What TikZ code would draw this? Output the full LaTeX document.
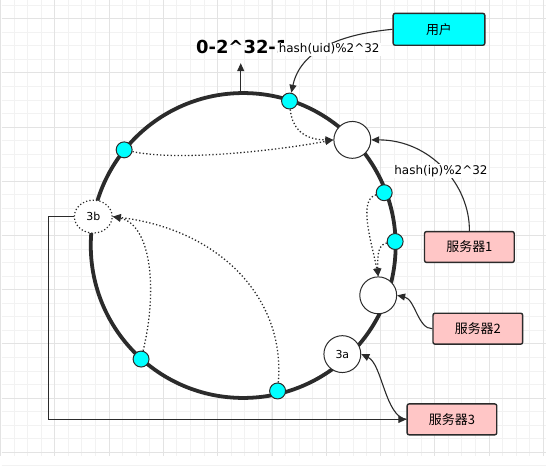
\documentclass[tikz,border=0pt]{standalone}
\usepackage{fontspec}
\setmainfont{DejaVu Sans}
\newfontfamily\cjk{Noto Sans CJK SC}
\usepackage{tikz}
\usetikzlibrary{arrows.meta,positioning,calc,shapes.geometric}
\definecolor{ink}{HTML}{2B2B2B}
\definecolor{aqua}{HTML}{00FFFF}
\definecolor{srvpink}{HTML}{FFC6C6}
\definecolor{gridminor}{HTML}{F2F2F2}
\definecolor{gridmajor}{HTML}{E3E3E3}

\begin{document}
\begin{tikzpicture}[
  x=1pt, y=-1pt,
  ring/.style={draw=ink, line width=3.8pt, fill=white},
  vnode/.style={circle, draw=ink, line width=1pt, fill=aqua, minimum size=16pt, inner sep=0pt},
  hnode/.style={circle, draw=ink, line width=1pt, fill=white, minimum size=37pt, inner sep=0pt, font=\fontsize{11}{11}\selectfont},
  srv/.style={draw=ink, line width=1.4pt, rounded corners=2pt, fill=srvpink, minimum width=90pt, minimum height=31pt, font=\cjk\fontsize{13}{13}\selectfont},
  usr/.style={srv, fill=aqua, minimum width=92pt, minimum height=32pt},
  lbl/.style={fill=white, inner sep=1pt, font=\fontsize{12}{12}\selectfont},
  arr/.style={-{Triangle[length=8pt,width=7pt]}, draw=ink, line width=1.1pt},
  darr/.style={-{Triangle[length=8pt,width=7pt]}, draw=ink, line width=1.3pt, dash pattern=on 1.3pt off 2.2pt}
]
% background grid
\fill[white] (0,0) rectangle (546,457);
\foreach \i in {0,...,40} \draw[gridminor, line width=0.8pt] ({-1.2+13.62*\i},0) -- ({-1.2+13.62*\i},457);
\foreach \j in {-1,...,33} \draw[gridminor, line width=0.8pt] (0,{18.3+13.6*\j}) -- (546,{18.3+13.6*\j});
\foreach \i in {0,...,10} \draw[gridmajor, line width=0.8pt] ({-1.2+54.5*\i},0) -- ({-1.2+54.5*\i},457);
\foreach \j in {0,...,8} \draw[gridmajor, line width=0.8pt] (0,{18.3+54.4*\j}) -- (546,{18.3+54.4*\j});
\useasboundingbox (0,0) rectangle (546,457);

% hash ring
\draw[ring] (242.5,246) circle[radius=153];
\coordinate (ringtop) at (240,93);
\coordinate (tick) at (240,63);
\draw[arr] (ringtop) -- (tick);
\node[anchor=west, inner sep=0pt, font=\bfseries\fontsize{18}{18}\selectfont] (range) at (195,47) {0-2\textasciicircum32-1};

% virtual nodes
\node[vnode] (d1) at (289,101) {};
\node[vnode] (d2) at (123,150) {};
\node[vnode] (d3) at (384,193) {};
\node[vnode] (d4) at (395,242) {};
\node[vnode] (d5) at (140,360) {};
\node[vnode] (d6) at (277,392) {};

% real nodes
\node[hnode] (h1) at (352,140) {};
\node[hnode] (h2) at (378,296) {};
\node[hnode] (a3) at (342,355) {3a};
\node[ellipse, draw=ink, line width=1.2pt, dash pattern=on 1.2pt off 2.2pt, fill=white, minimum width=38pt, minimum height=33pt, inner sep=0pt, font=\fontsize{11}{11}\selectfont] (b3) at (92,217) {3b};

% boxes
\node[usr] (user) at (439,29) {用户};
\node[srv] (srv1) at (469.5,247.5) {服务器1};
\node[srv] (srv2) at (478,329.5) {服务器2};
\node[srv] (srv3) at (452,420.5) {服务器3};

% moves along the ring
\draw[darr] (d2) .. controls (180,162) and (280,150) .. (h1.west);
\draw[darr] (d1) .. controls (291,125) and (300,140) .. (h1.west);
\draw[darr] (d3) .. controls (357,200) and (372,245) .. (h2.north);
\draw[darr] (d4) .. controls (378,245) and (377,255) .. (h2.north);
\draw[darr] (d5) .. controls (157,290) and (150,225) .. (b3.east);
\draw[darr] (d6) .. controls (285,300) and (220,230) .. (b3.east);

% hashing
\draw[arr] (user.west) .. controls (340,34) and (300,50) .. (d1);
\draw[arr] (srv1.north) .. controls (470,185) and (430,140) .. (h1.east);
\draw[arr] (srv2.west) .. controls (418,330) and (415,300) .. (h2.east);
\draw[arr] (srv3.west) .. controls (385,418) and (382,365) .. (a3.east);
\draw[arr] (b3.west) -- (47,217) |- (srv3.west);

\node[lbl, anchor=west] (uidlbl) at (277,49) {hash(uid)\%2\textasciicircum32};
\node[lbl] (iplbl) at (441,171) {hash(ip)\%2\textasciicircum32};
\end{tikzpicture}
\end{document}
